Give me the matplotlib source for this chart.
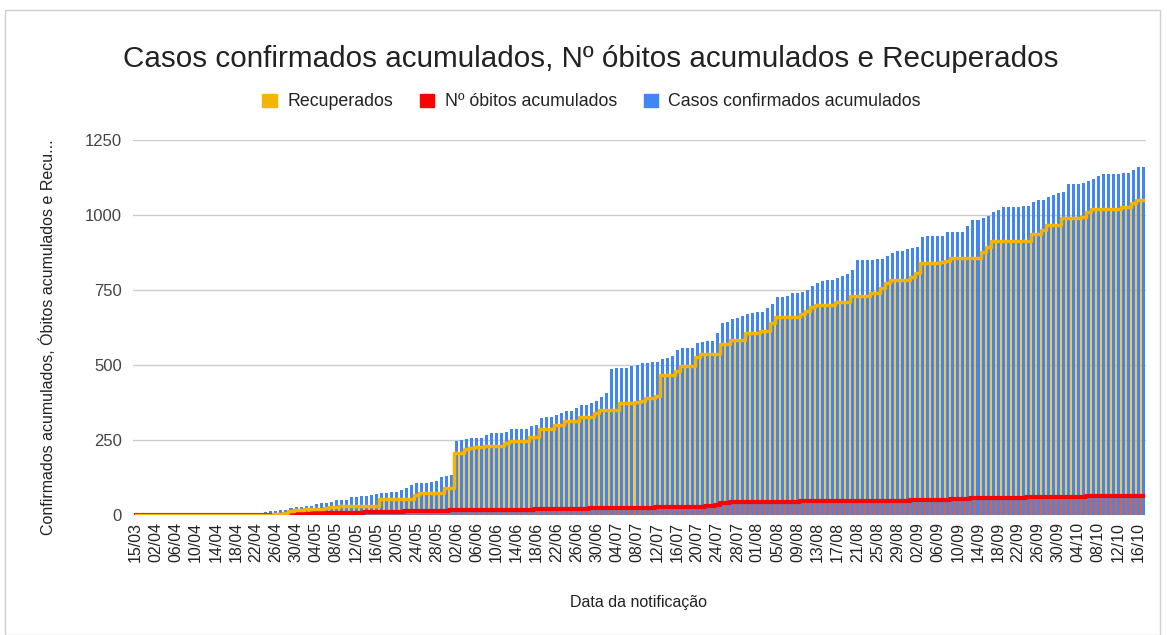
import numpy as np
import pandas as pd
import matplotlib
matplotlib.use('Agg')
import matplotlib.pyplot as plt
from matplotlib.patches import Patch, Rectangle

plt.rcParams['font.family'] = ['Liberation Sans', 'DejaVu Sans']

# categorias (datas de notificação)
datas = (['15/03', '30/03', '31/03', '01/04']
         + list(pd.date_range('2020-04-02', '2020-05-28').strftime('%d/%m'))
         + ['29/05', '30/05', '01/06']
         + list(pd.date_range('2020-06-02', '2020-10-17').strftime('%d/%m')))

casos = [
    1, 1, 1, 2, 2, 2, 3, 3, 3, 4,
    4, 5, 5, 5, 6, 7, 7, 8, 8, 8,
    8, 8, 8, 8, 8, 8, 9, 12, 12, 17,
    18, 24, 25, 26, 29, 31, 37, 39, 39, 44,
    50, 50, 50, 59, 59, 64, 64, 67, 70, 72,
    74, 78, 78, 83, 89, 100, 106, 106, 106, 111,
    114, 126, 131, 133, 248, 250, 252, 257, 257, 257,
    267, 272, 272, 272, 278, 286, 286, 286, 286, 297,
    300, 324, 328, 328, 333, 339, 347, 347, 358, 368,
    368, 372, 381, 394, 406, 486, 489, 489, 489, 497,
    500, 506, 506, 511, 511, 519, 524, 530, 550, 555,
    555, 555, 572, 578, 581, 581, 608, 641, 644, 653,
    656, 663, 669, 672, 678, 678, 691, 702, 726, 726,
    730, 739, 739, 744, 750, 765, 773, 781, 783, 783,
    789, 797, 802, 817, 850, 850, 850, 850, 854, 854,
    863, 874, 879, 879, 887, 889, 892, 926, 931, 931,
    931, 931, 944, 944, 944, 944, 964, 983, 983, 991,
    998, 1010, 1017, 1026, 1026, 1026, 1026, 1031, 1031, 1044,
    1050, 1050, 1061, 1066, 1074, 1078, 1102, 1102, 1102, 1108,
    1113, 1121, 1131, 1136, 1136, 1136, 1136, 1141, 1141, 1150,
    1159, 1159,
]

recuperados = [
    0, 0, 0, 0, 0, 0, 0, 0, 0, 0,
    0, 0, 0, 0, 0, 0, 0, 0, 0, 0,
    0, 0, 0, 0, 0, 0, 0, 0, 2, 4,
    8, 12, 15, 18, 19, 19, 20, 20, 22, 26,
    26, 31, 31, 31, 31, 31, 31, 31, 31, 53,
    53, 53, 53, 53, 53, 53, 67, 74, 74, 74,
    74, 74, 89, 89, 206, 208, 220, 224, 226, 226,
    230, 230, 230, 230, 239, 247, 247, 247, 247, 261,
    261, 286, 286, 286, 300, 300, 313, 313, 313, 325,
    325, 325, 339, 350, 350, 350, 350, 372, 372, 372,
    378, 381, 391, 391, 395, 467, 467, 467, 480, 497,
    497, 497, 528, 536, 536, 536, 536, 570, 570, 583,
    583, 583, 606, 606, 606, 613, 613, 639, 661, 661,
    661, 661, 661, 670, 680, 692, 700, 700, 700, 700,
    711, 711, 711, 730, 730, 730, 730, 739, 739, 756,
    772, 783, 783, 783, 783, 792, 806, 839, 841, 841,
    841, 845, 848, 858, 858, 858, 858, 858, 858, 876,
    892, 914, 914, 914, 914, 914, 914, 914, 914, 936,
    936, 950, 967, 967, 967, 989, 989, 989, 989, 994,
    1011, 1020, 1020, 1020, 1020, 1020, 1020, 1026, 1026, 1041,
    1050, 1050,
]

obitos = [
    0, 0, 0, 0, 0, 0, 0, 0, 0, 0,
    0, 0, 0, 0, 0, 0, 0, 0, 0, 0,
    0, 0, 0, 0, 0, 0, 0, 0, 0, 1,
    1, 2, 2, 3, 3, 4, 5, 5, 5, 6,
    6, 6, 7, 7, 8, 8, 9, 9, 10, 10,
    10, 11, 11, 11, 12, 12, 12, 13, 13, 13,
    14, 14, 14, 15, 15, 15, 16, 16, 16, 16,
    17, 17, 17, 17, 17, 18, 18, 18, 18, 18,
    19, 19, 19, 20, 20, 20, 20, 21, 21, 21,
    21, 22, 22, 22, 22, 22, 23, 23, 23, 23,
    23, 24, 24, 24, 25, 25, 25, 25, 26, 26,
    27, 27, 28, 28, 29, 30, 34, 39, 41, 42,
    42, 42, 42, 43, 43, 43, 43, 43, 43, 44,
    44, 44, 44, 45, 45, 45, 45, 45, 46, 46,
    46, 46, 46, 46, 47, 47, 47, 47, 47, 47,
    48, 48, 48, 48, 48, 49, 49, 49, 49, 50,
    50, 51, 51, 52, 52, 53, 54, 55, 55, 56,
    56, 57, 57, 57, 58, 58, 58, 58, 59, 59,
    59, 59, 60, 60, 60, 60, 61, 61, 61, 61,
    62, 62, 62, 62, 62, 62, 63, 63, 63, 63,
    63, 63,
]

yticks = [0, 250, 500, 750, 1000, 1250]

AZUL = '#4285F4'
AMARELO = '#F4B400'
VERMELHO = '#FF0000'
TEXTO = '#222222'

x = np.arange(len(datas))

fig = plt.figure(figsize=(11.67, 6.35), dpi=100)
ax = fig.add_axes([0.114, 0.189, 0.868, 0.5905])

# areas em degrau por tras das barras
ax.fill_between(x, recuperados, step='mid', color=AMARELO, alpha=0.75, lw=0, zorder=1)
ax.fill_between(x, obitos, step='mid', color=VERMELHO, alpha=0.55, lw=0, zorder=1.5)
ax.bar(x, casos, width=0.6, color=AZUL, zorder=2)
ax.step(x, obitos, where='mid', color=VERMELHO, lw=3, zorder=3)
ax.step(x, recuperados, where='mid', color=AMARELO, lw=2.5, zorder=3.5)

ax.set_xlim(-0.5, len(datas) - 0.5)
ax.set_ylim(0, 1250)
ax.set_yticks(yticks)
ax.set_yticklabels([str(v) for v in yticks], fontsize=12, color='#444444')
ax.set_xticks(x[::4])
ax.set_xticklabels(datas[::4], rotation=90, fontsize=11.5, color='#222222')
ax.tick_params(axis='both', length=0)
ax.tick_params(axis='x', pad=5)
ax.tick_params(axis='y', pad=8)
ax.grid(axis='y', color='#cccccc', lw=1, zorder=0)
ax.set_axisbelow(True)
for spine in ('top', 'right', 'bottom', 'left'):
    ax.spines[spine].set_visible(False)

fig.text(0.506, 1 - 59 / 635, 'Casos confirmados acumulados, Nº óbitos acumulados e Recuperados',
         ha='center', va='center', fontsize=21.3, color=TEXTO)
fig.text(0.547, 1 - 603 / 635, 'Data da notificação', ha='center', va='center',
         fontsize=11.5, color=TEXTO)
fig.text(48 / 1167, 1 - 337 / 635, 'Confirmados acumulados, Óbitos acumulados e Recu...',
         ha='center', va='center', rotation=90, fontsize=11.5, color=TEXTO)

handles = [Patch(color=AMARELO), Patch(color=VERMELHO), Patch(color=AZUL)]
labels = ['Recuperados', 'Nº óbitos acumulados', 'Casos confirmados acumulados']
fig.legend(handles, labels, loc='center', bbox_to_anchor=(0.507, 1 - 102 / 635), ncol=3,
           frameon=False, fontsize=12.8, handlelength=0.8, handleheight=0.8,
           handletextpad=0.6, columnspacing=1.5, labelcolor=TEXTO)

# moldura da captura
fig.patches.append(Rectangle((5 / 1167, 0), 1155 / 1167, 625 / 635, transform=fig.transFigure,
                             fill=False, edgecolor='#cfcfcf', lw=1))

fig.savefig('out.png', dpi=100)
